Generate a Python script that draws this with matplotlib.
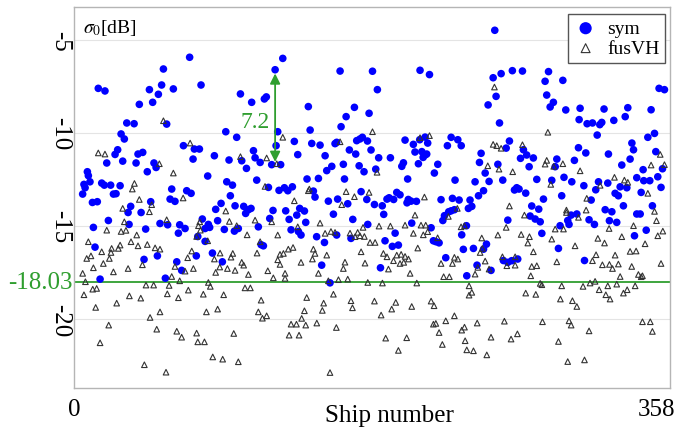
import matplotlib
matplotlib.use("Agg")
import matplotlib.pyplot as plt
import matplotlib.transforms as mtransforms

plt.rcParams["font.family"] = ["Liberation Serif", "DejaVu Serif"]
plt.rcParams["mathtext.fontset"] = "stix"

# sym: ship number / sigma0 [dB]
sym_ship = [
    54.9, 14.9, 19.0, 46.3, 53.8, 51.8, 40.1, 48.3, 32.4, 36.9,
    56.9, 28.9, 30.9, 26.8, 25.2, 20.1, 29.9, 38.1, 39.3, 42.2,
    49.1, 50.4, 45.0, 8.2, 8.8, 9.8, 6.1, 6.8, 5.3, 17.0,
    18.6, 22.5, 24.2, 25.8, 28.3, 11.3, 14.3, 34.8, 33.2, 41.2,
    47.1, 21.1, 11.9, 33.8, 52.8, 57.5, 44.0, 12.9, 43.0, 51.2,
    16.0, 56.1,
    71.0, 61.0, 78.0, 102.2, 109.1, 116.9, 118.1, 93.2, 99.9, 67.2,
    73.9, 77.0, 73.1, 86.2, 95.2, 103.0, 110.2, 111.2, 114.3, 105.9,
    82.1, 60.0, 69.2, 71.9, 93.8, 97.3, 112.2, 59.0, 62.0, 96.0,
    90.3, 87.0, 98.9, 104.2, 105.4, 107.1, 108.7, 78.8, 88.2, 64.9,
    68.2, 64.1, 82.5, 83.3, 80.5, 92.3, 98.5, 100.9, 113.2, 76.0,
    80.5, 114.9, 116.3, 75.1, 85.0, 91.1, 63.1, 66.1,
    128.2, 123.5, 163.4, 143.9, 172.2, 167.1, 164.0, 145.0, 125.1, 135.3,
    146.0, 151.1, 160.3, 161.3, 173.6, 177.1, 175.6, 124.1, 137.4, 154.2,
    169.1, 173.0, 121.4, 126.9, 165.4, 158.3, 155.2, 175.1, 178.1, 143.1,
    150.1, 166.1, 119.4, 125.9, 129.2, 131.3, 134.1, 147.0, 148.0, 176.3,
    161.9, 156.2, 168.1, 122.2, 130.0, 138.6, 141.5, 136.8, 132.1, 120.2,
    159.3, 142.3, 171.2, 133.3, 137.8, 139.4, 149.0, 161.3, 153.8, 170.1,
    152.1, 157.2, 180.2,
    183.3, 212.5, 218.3, 186.3, 181.2, 215.6, 212.3, 231.6, 235.7, 237.8,
    229.3, 203.3, 208.4, 217.2, 182.4, 209.4, 213.6, 215.6, 216.6, 214.4,
    187.1, 194.3, 201.3, 202.3, 211.5, 223.4, 221.3, 185.3, 204.9, 234.0,
    198.2, 200.2, 179.8, 184.5, 189.3, 192.2, 193.5, 196.3, 205.3, 204.5,
    207.0, 210.3, 225.4, 232.4, 236.5, 227.5, 230.1, 231.6, 233.6, 226.5,
    190.2, 180.4, 207.4, 219.3, 197.2, 238.1, 220.7, 222.3, 224.2, 191.0,
    195.5, 199.2, 239.1, 228.3, 188.2, 241.2,
    258.4, 257.4, 262.3, 269.2, 275.4, 291.4, 289.3, 300.2, 290.3, 294.4,
    292.4, 302.0, 259.2, 254.3, 261.3, 267.4, 265.4, 276.0, 278.0, 282.1,
    274.2, 279.5, 250.0, 249.0, 260.3, 252.5, 254.9, 246.3, 263.3, 296.5,
    295.5, 300.9, 284.2, 293.4, 271.9, 270.5, 273.3, 277.4, 251.5, 248.4,
    299.5, 288.3, 243.2, 244.3, 242.2, 281.1, 285.4, 266.4, 280.1, 283.2,
    286.3, 303.2, 304.0, 298.5, 241.0, 287.3, 253.3, 251.5, 245.3, 297.5,
    263.7, 266.4, 268.8, 272.5, 247.5, 256.1,
    359.3, 362.6, 310.8, 325.5, 340.1, 354.4, 310.2, 315.1, 318.4, 322.9,
    324.1, 331.5, 338.5, 321.3, 352.4, 356.5, 342.6, 309.8, 314.3, 343.6,
    328.2, 357.3, 307.3, 341.5, 336.4, 361.4, 349.5, 305.7, 322.1, 327.8,
    320.4, 313.1, 345.6, 349.9, 353.6, 358.5, 335.4, 339.5, 332.3, 334.3,
    348.3, 360.5, 317.6, 326.2, 330.3, 337.4, 345.6, 347.7, 355.2, 308.8,
    305.3, 316.3, 319.6, 328.8, 333.3, 344.2, 351.4, 313.5,
]
sym_db = [
    -6.56, -7.60, -7.74, -7.67, -7.42, -7.92, -8.46, -8.35, -9.46, -9.50,
    -9.52, -10.05, -10.32, -10.90, -11.15, -11.61, -11.51, -11.61, -11.13, -11.04,
    -11.61, -11.85, -12.08, -12.08, -12.29, -12.62, -12.76, -12.94, -13.28, -12.69,
    -12.80, -12.80, -13.28, -13.26, -12.83, -13.73, -13.69, -13.94, -14.27, -14.27,
    -13.69, -14.70, -15.07, -14.91, -14.86, -14.93, -15.16, -16.13, -16.79, -16.60,
    -17.85, -17.80,
    -5.93, -7.63, -7.42, -7.90, -8.35, -8.17, -8.06, -9.93, -10.23, -10.68,
    -10.86, -10.86, -11.40, -11.22, -11.45, -11.49, -10.95, -11.33, -11.58, -11.90,
    -12.31, -13.01, -13.10, -13.24, -12.62, -12.80, -12.53, -13.55, -13.67, -13.37,
    -13.78, -14.10, -13.91, -13.94, -14.32, -14.12, -14.05, -14.62, -14.71, -14.93,
    -15.13, -15.38, -14.91, -15.07, -15.13, -15.18, -15.27, -15.13, -15.04, -15.56,
    -15.82, -16.00, -16.06, -16.60, -16.45, -16.92, -16.92, -17.38,
    -5.99, -6.60, -6.67, -8.58, -8.62, -9.12, -9.66, -9.84, -9.93, -10.45,
    -10.56, -10.65, -10.57, -10.50, -10.41, -10.23, -10.32, -10.68, -11.16, -11.22,
    -10.91, -11.13, -11.70, -11.70, -11.68, -11.79, -12.02, -11.76, -12.08, -12.47,
    -12.44, -12.47, -12.92, -13.08, -12.94, -13.10, -12.89, -13.12, -13.44, -13.15,
    -13.55, -13.66, -13.80, -14.16, -14.18, -14.05, -14.19, -14.41, -14.64, -14.59,
    -14.36, -14.80, -14.64, -15.20, -15.29, -15.48, -15.57, -15.48, -15.88, -15.66,
    -17.10, -18.05, -10.43,
    -6.68, -6.63, -6.86, -7.67, -8.94, -10.22, -10.36, -10.23, -10.36, -10.68,
    -10.68, -10.38, -10.61, -10.54, -10.91, -11.02, -11.00, -11.18, -11.13, -11.31,
    -11.33, -11.33, -11.79, -11.60, -11.65, -11.68, -12.15, -11.94, -12.47, -12.53,
    -13.19, -13.32, -13.57, -13.84, -13.91, -13.55, -13.48, -13.57, -13.57, -13.75,
    -13.66, -13.67, -13.58, -13.51, -13.60, -14.44, -14.23, -14.18, -14.12, -14.70,
    -14.37, -14.91, -14.84, -15.09, -15.38, -15.47, -15.79, -15.84, -15.90, -15.79,
    -16.09, -16.02, -16.25, -16.70, -17.24, -17.67,
    -4.48, -7.03, -6.81, -6.65, -6.67, -6.70, -7.22, -7.17, -7.96, -8.35,
    -8.60, -8.76, -8.03, -8.49, -9.46, -10.43, -10.81, -10.90, -11.18, -11.34,
    -11.36, -11.81, -11.09, -11.58, -11.68, -12.15, -12.60, -12.62, -12.53, -11.40,
    -11.81, -12.38, -12.49, -12.54, -12.94, -13.06, -13.01, -13.23, -13.10, -13.37,
    -13.37, -13.55, -13.60, -13.94, -14.05, -13.92, -14.09, -14.68, -14.46, -14.62,
    -14.77, -14.70, -14.91, -14.98, -14.98, -15.39, -15.97, -16.24, -16.20, -16.20,
    -16.85, -16.95, -16.86, -16.77, -17.10, -17.38,
    -7.60, -7.67, -8.67, -8.71, -8.64, -8.75, -9.28, -9.50, -9.46, -9.55,
    -9.43, -9.32, -9.12, -10.11, -10.23, -10.02, -10.54, -10.79, -11.07, -10.90,
    -11.13, -11.00, -11.47, -11.40, -11.72, -11.92, -11.97, -12.62, -12.62, -12.69,
    -13.05, -12.83, -12.40, -12.56, -12.56, -12.35, -12.89, -12.94, -13.24, -13.37,
    -13.19, -12.92, -13.60, -14.12, -14.23, -13.91, -14.35, -14.35, -13.91, -14.35,
    -14.41, -14.66, -14.91, -14.71, -14.80, -15.52, -15.22, -16.85,
]

# fusVH
fus_ship = [
    54.9, 14.9, 19.0, 52.4, 37.1, 35.8, 40.1, 29.9, 47.7, 46.3,
    30.9, 56.9, 20.1, 28.9, 31.9, 38.5, 8.8, 35.0, 39.3, 45.0,
    49.8, 52.8, 28.3, 27.2, 23.1, 22.7, 17.0, 10.4, 7.8, 21.7,
    18.0, 42.0, 11.9, 5.3, 24.2, 33.2, 7.0, 44.2, 48.9, 11.5,
    13.9, 6.1, 34.0, 41.0, 57.3, 26.2, 13.3, 52.8, 46.7, 21.3,
    50.8, 16.0, 43.2, 56.5,
    71.3, 102.2, 61.0, 117.3, 67.0, 93.2, 95.4, 111.2, 77.2, 76.4,
    75.3, 77.6, 82.1, 99.9, 106.3, 114.3, 72.3, 69.8, 89.7, 86.2,
    97.5, 96.4, 112.4, 62.0, 73.3, 68.2, 89.5, 94.2, 87.0, 103.0,
    104.2, 98.9, 107.1, 119.0, 60.0, 64.9, 82.5, 83.7, 58.4, 70.2,
    79.4, 91.9, 105.0, 108.3, 64.1, 114.9, 81.3, 88.2, 113.2, 115.7,
    118.3, 63.1, 66.1, 75.3, 76.0, 80.1, 98.1, 85.2, 91.3, 100.9,
    128.2, 118.3, 124.5, 163.4, 143.9, 144.5, 135.3, 167.1, 172.2, 164.4,
    121.4, 151.1, 137.4, 125.1, 154.2, 157.8, 160.3, 169.5, 172.6, 174.2,
    175.6, 177.5, 178.3, 134.5, 131.6, 128.6, 126.5, 147.0, 148.0, 155.2,
    146.4, 125.1, 126.5, 139.4, 166.4, 176.3, 165.4, 122.4, 129.6, 129.6,
    150.1, 156.2, 162.4, 168.1, 142.9, 159.3, 153.3, 170.1, 171.0, 141.5,
    152.5, 139.8, 133.3, 136.6, 142.3, 149.1, 161.1, 132.1, 138.2, 157.2,
    183.3, 212.5, 218.3, 186.1, 181.2, 215.2, 209.4, 187.3, 194.3, 203.3,
    213.1, 216.0, 208.4, 214.5, 217.2, 223.3, 229.9, 235.4, 237.7, 239.8,
    181.8, 184.9, 211.1, 190.0, 192.2, 198.2, 200.9, 203.3, 205.4, 196.2,
    200.2, 202.5, 178.7, 193.1, 225.4, 232.4, 233.6, 235.7, 206.4, 227.0,
    230.5, 180.4, 189.4, 210.5, 242.6, 242.6, 184.5, 197.6, 195.1, 207.4,
    219.3, 221.1, 188.6, 233.6, 228.3, 220.7, 222.2, 224.2, 239.8, 238.1,
    191.4, 204.3, 240.2, 226.2, 199.2, 241.2,
    258.2, 291.0, 257.4, 259.6, 262.3, 275.4, 289.3, 290.3, 294.6, 300.2,
    254.1, 261.0, 269.4, 292.8, 267.4, 276.6, 302.4, 265.4, 260.3, 250.4,
    274.6, 279.7, 278.7, 295.5, 293.4, 300.6, 250.8, 249.4, 282.1, 263.1,
    265.8, 270.9, 270.9, 252.5, 246.3, 248.0, 254.9, 281.1, 284.2, 280.5,
    296.5, 286.3, 287.3, 299.5, 277.4, 283.6, 298.7, 247.6, 264.3, 287.7,
    256.1, 268.4, 272.3, 297.5, 245.3, 253.5, 303.2, 304.0, 244.3,
    360.0, 310.8, 354.4, 362.6, 331.9, 338.0, 340.1, 323.1, 314.9, 352.4,
    302.4, 309.8, 314.5, 328.6, 356.5, 357.7, 343.6, 336.4, 321.7, 325.8,
    307.7, 361.6, 358.5, 350.7, 320.6, 332.3, 341.5, 345.2, 318.4, 324.5,
    328.8, 334.3, 330.7, 342.5, 346.6, 348.3, 349.1, 360.5, 335.4, 312.6,
    316.9, 322.5, 327.8, 333.3, 344.6, 320.0, 339.7, 337.4, 326.6, 329.2,
    306.1, 308.8, 305.3, 316.3, 349.1, 353.9, 355.2, 313.5,
]
fus_db = [
    -9.34, -11.07, -11.13, -11.65, -12.71, -13.01, -13.57, -14.05, -13.85, -14.23,
    -14.77, -14.66, -15.22, -15.29, -15.23, -15.48, -15.84, -15.84, -16.06, -15.99,
    -16.17, -16.24, -16.02, -16.20, -16.20, -16.42, -16.38, -16.60, -16.74, -16.74,
    -17.01, -17.08, -17.24, -17.54, -17.46, -17.28, -17.99, -18.17, -18.17, -18.39,
    -18.35, -18.69, -18.75, -18.87, -18.64, -19.14, -19.37, -19.61, -19.91, -20.32,
    -20.54, -21.27, -22.45, -22.85,
    -10.54, -11.27, -12.15, -12.87, -13.49, -14.19, -14.75, -14.68, -14.77, -14.98,
    -15.56, -15.22, -15.79, -14.98, -15.47, -15.84, -16.34, -16.70, -16.45, -16.77,
    -16.47, -16.67, -16.45, -17.17, -17.28, -17.42, -17.20, -17.28, -17.49, -16.95,
    -17.10, -17.38, -17.60, -17.40, -17.71, -17.94, -18.03, -18.24, -18.19, -18.44,
    -18.66, -18.69, -18.32, -18.32, -18.85, -18.98, -19.61, -19.46, -19.61, -19.95,
    -19.82, -20.65, -20.97, -20.75, -21.22, -21.22, -20.77, -22.03, -22.15, -22.29,
    -10.23, -11.34, -11.65, -10.47, -13.10, -13.01, -13.64, -13.15, -13.42, -13.85,
    -14.77, -14.84, -15.04, -15.48, -15.39, -15.29, -15.34, -15.38, -15.57, -15.34,
    -15.52, -15.07, -15.56, -16.15, -16.24, -16.47, -16.52, -16.24, -16.47, -16.56,
    -16.77, -16.81, -17.06, -16.95, -16.94, -16.38, -17.28, -17.78, -17.54, -17.81,
    -17.54, -17.94, -17.88, -17.85, -18.84, -18.66, -19.14, -19.01, -19.39, -19.55,
    -19.53, -19.96, -20.27, -20.27, -20.32, -20.21, -20.45, -20.86, -20.86, -22.87,
    -9.93, -10.25, -10.14, -12.11, -13.19, -13.44, -14.41, -15.00, -15.00, -14.95,
    -14.95, -14.95, -15.39, -15.47, -15.30, -15.63, -14.48, -14.05, -15.04, -14.98,
    -15.88, -15.88, -16.18, -16.47, -16.65, -16.56, -16.52, -16.63, -16.77, -16.86,
    -17.01, -16.95, -16.99, -17.31, -17.01, -17.01, -16.68, -16.77, -17.54, -17.72,
    -17.72, -18.03, -18.06, -18.06, -18.21, -18.71, -19.03, -19.10, -19.46, -19.32,
    -19.03, -19.28, -19.78, -19.82, -20.09, -20.27, -20.23, -20.72, -20.43, -20.59,
    -21.02, -21.00, -21.16, -21.36, -21.68, -21.65,
    -7.53, -9.96, -10.61, -10.68, -10.82, -10.63, -11.67, -11.47, -11.79, -11.65,
    -11.76, -11.94, -12.08, -12.76, -13.92, -14.41, -14.14, -15.07, -15.48, -15.64,
    -15.45, -15.57, -15.91, -15.16, -15.70, -15.16, -16.20, -16.42, -16.38, -16.65,
    -17.13, -17.10, -16.65, -16.88, -17.58, -17.22, -17.31, -17.17, -17.13, -17.67,
    -16.92, -18.08, -18.15, -18.21, -18.60, -18.67, -18.92, -20.21, -20.11, -20.14,
    -20.97, -21.07, -20.79, -21.20, -21.70, -21.92, -22.28, -20.09, -18.56,
    -11.15, -12.03, -11.72, -11.70, -12.38, -12.53, -12.65, -12.81, -13.51, -13.24,
    -14.27, -14.53, -14.14, -15.13, -14.21, -14.71, -14.98, -15.57, -15.66, -15.91,
    -16.06, -15.27, -15.52, -15.95, -16.54, -16.56, -16.36, -16.34, -16.86, -17.08,
    -17.06, -17.04, -17.28, -17.17, -17.60, -17.72, -17.67, -17.01, -17.71, -18.24,
    -18.06, -18.42, -18.21, -18.12, -18.21, -17.97, -18.42, -18.60, -18.69, -18.92,
    -19.01, -19.32, -20.32, -20.63, -20.14, -20.14, -20.66, -22.19,
]

threshold = -18.03
gap_ship = 123.5
gap_top, gap_bottom = -6.8, -11.55
gap_text = "7.2"

yticks = [-5, -10, -15, -20]
xticks = [0, 358]

green = "#2f9e2f"

fig = plt.figure(figsize=(6.76, 4.31), dpi=100)
ax = fig.add_axes([0.1095, 0.0974, 0.8816, 0.884])

ax.scatter(sym_ship, sym_db, s=30, c="#0000ff", edgecolors="none",
           zorder=3, label="sym")
ax.scatter(fus_ship, fus_db, s=16, marker="^", facecolors="none",
           edgecolors="#333333", linewidths=0.8, zorder=4, label="fusVH")

ax.axhline(threshold, color=green, lw=1.3, zorder=2)
trans = mtransforms.blended_transform_factory(ax.transAxes, ax.transData)
ax.text(-0.003, threshold, "-18.03", transform=trans, ha="right",
        va="center", color=green, fontsize=18, clip_on=False)

ax.annotate("", xy=(gap_ship, gap_top), xytext=(gap_ship, gap_bottom),
            arrowprops=dict(arrowstyle="<|-|>", color=green, lw=1.3,
                            mutation_scale=15, shrinkA=0, shrinkB=0),
            zorder=5)
ax.text(111, -9.4, gap_text, color=green, fontsize=17,
        ha="center", va="center", zorder=5)

ax.set_xlim(0, 366)
ax.set_ylim(-23.7, -3.23)
ax.set_yticks(yticks)
ax.set_yticklabels([str(t) for t in yticks], rotation=-90, va="center")
ax.set_xticks(xticks)
ax.tick_params(length=0, labelsize=18)
ax.tick_params(axis="y", pad=2)
ax.tick_params(axis="x", pad=7)
ax.grid(axis="y", color="#e4e4e4", lw=0.8)
ax.set_axisbelow(True)
for sp in ax.spines.values():
    sp.set_color("#b5b5b5")
    sp.set_linewidth(1.0)

ax.set_xlabel("Ship number", fontsize=18)
ax.xaxis.set_label_coords(0.53, -0.042)

ax.text(0.015, 0.975, r"$\sigma_0$[dB]", transform=ax.transAxes,
        ha="left", va="top", fontsize=14)

leg = ax.legend(loc="upper right", bbox_to_anchor=(0.992, 0.982),
                fontsize=14, frameon=True, fancybox=False,
                edgecolor="#555555", framealpha=1, borderpad=0.3,
                labelspacing=0.12, handletextpad=0.5, handlelength=1.2,
                borderaxespad=0, markerscale=1.6)
leg.get_frame().set_linewidth(1.0)

fig.savefig("out.png", dpi=100)
